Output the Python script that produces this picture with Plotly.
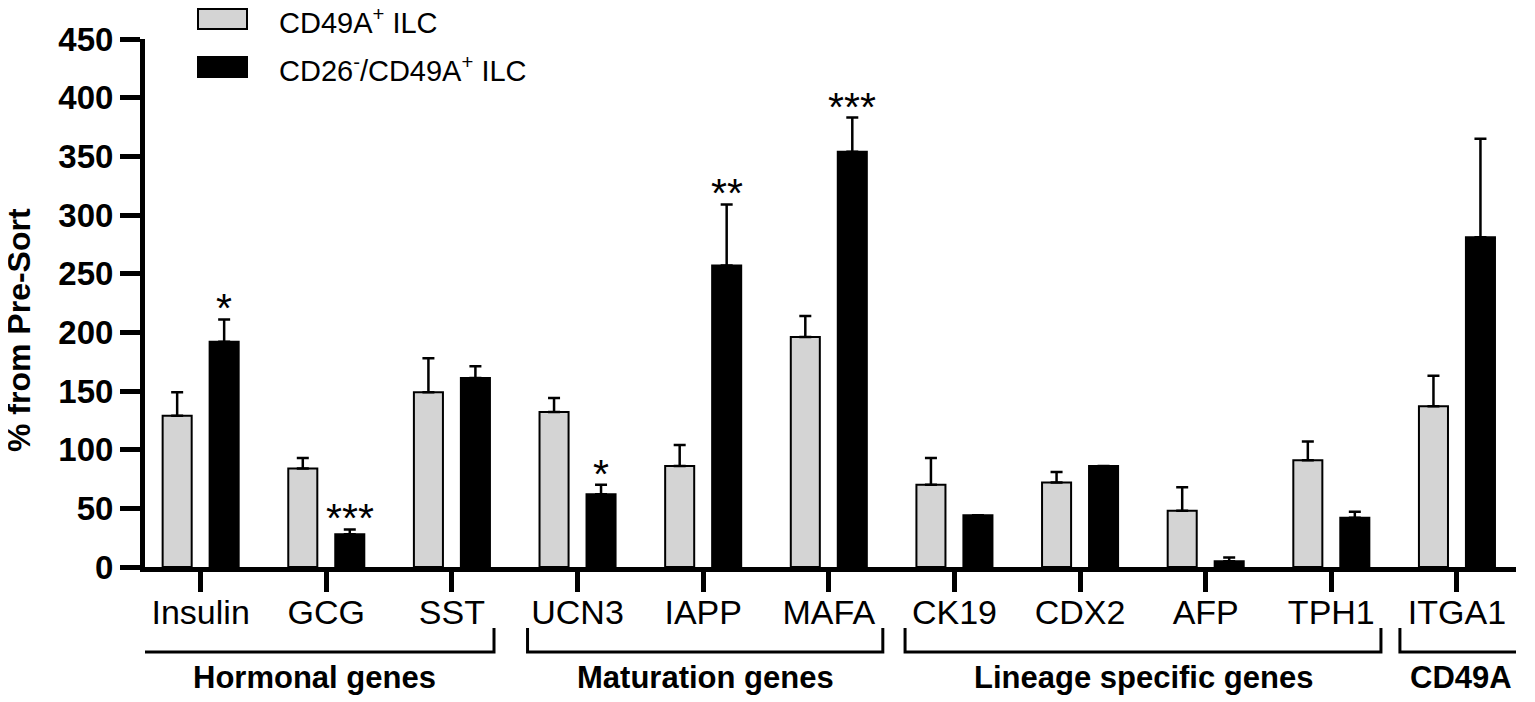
import plotly.graph_objects as go

# ---------------- data ----------------
categories = ["Insulin", "GCG", "SST", "UCN3", "IAPP", "MAFA",
              "CK19", "CDX2", "AFP", "TPH1", "ITGA1"]
series_names = ["CD49A<sup>+</sup> ILC", "CD26<sup>-</sup>/CD49A<sup>+</sup> ILC"]
gray_vals = [129, 84, 149, 132, 86, 196, 70, 72, 48, 91, 137]
gray_err = [20, 9, 29, 12, 18, 18, 23, 9, 20, 16, 26]
black_vals = [192, 28, 161, 62, 257, 354, 44, 86, 5, 42, 281]
black_err = [19, 4, 10, 8, 52, 29, 0, 0, 3, 5, 84]
significance = ["*", "***", "", "*", "**", "***", "", "", "", "", ""]
group_names = ["Hormonal genes", "Maturation genes", "Lineage specific genes", "CD49A"]
y_ticks = [0, 50, 100, 150, 200, 250, 300, 350, 400, 450]

# ---------------- layout constants ----------------
OFF = 8                      # page body margin of the browser
W, H = 1535 - OFF, 702 - OFF
L, R, T, B = 145 - OFF, 19, 39 - OFF, 135
PW, PH = W - L - R, H - T - B
FONT = "Liberation Sans, Arial, Helvetica, sans-serif"
BARGAP, BARGROUPGAP = 0.252, 0.382
# bracket extents in category units (layout)
bracket_spans = [(-0.517, 2.335), (2.602, 5.43), (5.607, 9.395), (9.546, 10.517)]


def px_x(p):
    """screen pixel x -> paper coordinate"""
    return (p - OFF - L) / PW


def px_y(p):
    """screen pixel y -> paper coordinate"""
    return (H - B - (p - OFF)) / PH


fig = go.Figure()
fig.add_trace(go.Bar(
    x=categories, y=gray_vals, name=series_names[0],
    marker=dict(color="#d4d4d4", line=dict(color="black", width=2)),
    error_y=dict(type="data", array=gray_err, symmetric=False,
                 arrayminus=[0] * len(gray_err), color="black",
                 thickness=2.5, width=6),
))
fig.add_trace(go.Bar(
    x=categories, y=black_vals, name=series_names[1],
    marker=dict(color="black", line=dict(color="black", width=2)),
    error_y=dict(type="data", array=black_err, symmetric=False,
                 arrayminus=[0] * len(black_err), color="black",
                 thickness=2.5, width=6),
))

shapes = []
annotations = []

# significance stars above black bars
offset = (1 - BARGAP) / 4
for i, s in enumerate(significance):
    if s:
        annotations.append(dict(
            x=i + offset, y=black_vals[i] + black_err[i], xref="x", yref="y",
            text=s, showarrow=False, yanchor="middle", yshift=11,
            font=dict(family=FONT, size=41, color="black")))

# group brackets
for (a, b), name in zip(bracket_spans, group_names):
    shapes.append(dict(
        type="path", xref="x", yref="paper",
        path=f"M {a},{px_y(628)} L {a},{px_y(652)} L {b},{px_y(652)} L {b},{px_y(628)}",
        line=dict(color="black", width=3)))
    annotations.append(dict(
        x=(a + b) / 2, y=px_y(677), xref="x", yref="paper", text=f"<b>{name}</b>",
        showarrow=False, xanchor="center", yanchor="middle",
        font=dict(family=FONT, size=31, color="black")))

# legend drawn manually
legend_rows = [(9, 29, "#d4d4d4"), (57, 77, "black")]
for (y0, y1, col), name in zip(legend_rows, series_names):
    shapes.append(dict(type="rect", xref="paper", yref="paper",
                       x0=px_x(198), x1=px_x(247), y0=px_y(y1), y1=px_y(y0),
                       fillcolor=col, line=dict(color="black", width=2)))
    annotations.append(dict(x=px_x(277), y=px_y((y0 + y1) / 2 + 2), xref="paper", yref="paper",
                            text=name, showarrow=False, xanchor="left", yanchor="middle",
                            font=dict(family=FONT, size=29, color="black")))

# y-axis title
annotations.append(dict(x=px_x(19), y=px_y(330), xref="paper", yref="paper",
                        text="<b>% from Pre-Sort</b>", textangle=-90, showarrow=False,
                        xanchor="center", yanchor="middle",
                        font=dict(family=FONT, size=32, color="black")))

fig.update_layout(
    width=W, height=H, autosize=False,
    margin=dict(l=L, r=R, t=T, b=B, pad=0),
    paper_bgcolor="white", plot_bgcolor="white",
    barmode="group", bargap=BARGAP, bargroupgap=BARGROUPGAP,
    showlegend=False,
    shapes=shapes, annotations=annotations,
    font=dict(family=FONT, color="black"),
)
fig.update_xaxes(
    type="category", range=[-0.443, 10.47],
    showline=True, linecolor="black", linewidth=5,
    ticks="outside", ticklen=20, tickwidth=5, tickcolor="black",
    tickfont=dict(family=FONT, size=34, color="black"),
    ticklabelstandoff=-9,
    showgrid=False, zeroline=False,
)
fig.update_yaxes(
    range=[0, 450], tickvals=y_ticks, ticktext=[f"<b>{v}</b>" for v in y_ticks],
    showline=True, linecolor="black", linewidth=5,
    ticks="outside", ticklen=20, tickwidth=5, tickcolor="black",
    tickfont=dict(family=FONT, size=33, color="black"),
    showgrid=False, zeroline=False,
)

fig.write_html("out.html")
